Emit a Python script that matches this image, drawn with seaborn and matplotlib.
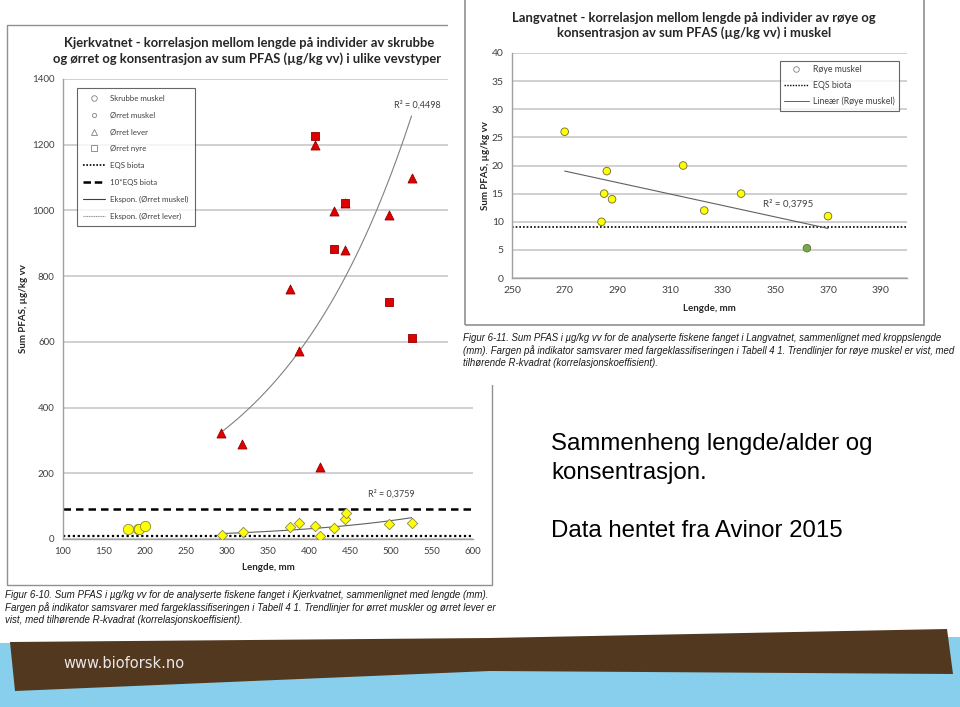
import numpy as np
import pandas as pd
import seaborn as sns
import matplotlib.pyplot as plt
from matplotlib.lines import Line2D
from matplotlib.patches import Rectangle, Polygon

# Kjerkvatnet: lengde (mm) og sum PFAS (ug/kg vv)
skrubbe_len = [179, 192, 193, 200]
skrubbe_pfas = [29, 31, 30, 41]
muskel_len = [294, 319, 377, 388, 407, 414, 430, 444, 445, 497, 525]
muskel_pfas = [11, 22, 36, 49, 40, 9, 35, 60, 80, 46, 50]
lever_len = [293, 318, 377, 388, 407, 413, 430, 444, 444, 497, 525]
lever_pfas = [322, 289, 760, 572, 1200, 219, 999, 880, 1022, 986, 1100]
nyre_len = [407, 430, 444, 497, 525]
nyre_pfas = [1226, 882, 1022, 720, 611]

# Langvatnet: røye muskel
roye_len = [270, 286, 285, 288, 284, 315, 323, 337, 370, 362]
roye_pfas = [26, 19, 15, 14, 10, 20, 12, 15, 11, 5.3]
roye_klasse = ['gul', 'gul', 'gul', 'gul', 'gul', 'gul', 'gul', 'gul', 'gul', 'grønn']

eqs_biota = 9.1
eqs_10 = 91
r2_lever = 'R² = 0,4498'
r2_muskel = 'R² = 0,3759'
r2_roye = 'R² = 0,3795'

W, H = 960, 707
def fx(px):
    return px / W
def fy(py):
    return 1 - py / H

sns.set_theme(style="white")
plt.rcParams['font.family'] = ['Lato', 'DejaVu Sans']

fig = plt.figure(figsize=(9.6, 7.07), dpi=100)
fig.patch.set_facecolor('white')

tick_col = '#404040'
grid_col = '#c8c8c8'

# ---------------- Left chart: Kjerkvatnet ----------------
ax1 = fig.add_axes([fx(63), fy(539), (473 - 63) / W, (539 - 79) / H], zorder=0)
ax1.set_facecolor('none')
sns.scatterplot(x=skrubbe_len, y=skrubbe_pfas, ax=ax1, marker='o', s=55,
                color='#ffff00', edgecolor='#8a8a40', linewidth=0.6, zorder=4)
sns.scatterplot(x=muskel_len, y=muskel_pfas, ax=ax1, marker='D', s=28,
                color='#ffff00', edgecolor='#8a8a40', linewidth=0.6, zorder=4)
sns.scatterplot(x=lever_len, y=lever_pfas, ax=ax1, marker='^', s=42,
                color='#e00000', edgecolor='#900000', linewidth=0.6, zorder=4)
sns.scatterplot(x=nyre_len, y=nyre_pfas, ax=ax1, marker='s', s=36,
                color='#e00000', edgecolor='#900000', linewidth=0.6, zorder=5)

# exponential trend lines (fit on log y)
for xs, ys, col in [(lever_len, lever_pfas, '#808080'), (muskel_len, muskel_pfas, '#606060')]:
    b, a = np.polyfit(xs, np.log(ys), 1)
    xx = np.linspace(min(xs), max(xs), 100)
    sns.lineplot(x=xx, y=np.exp(a + b * xx), ax=ax1, color=col, linewidth=0.8, zorder=3)

ax1.axhline(eqs_biota, color='black', linestyle=(0, (1, 1.2)), linewidth=1.6, zorder=2)
ax1.axhline(eqs_10, color='black', linestyle=(0, (3, 2)), linewidth=1.8, zorder=2)

ax1.set_xlim(100, 600)
ax1.set_ylim(0, 1400)
ax1.set_xticks(np.arange(100, 601, 50))
ax1.set_yticks(np.arange(0, 1401, 200))
ax1.grid(axis='y', color=grid_col, linewidth=1.2)
ax1.set_axisbelow(True)
for s in ['top', 'right']:
    ax1.spines[s].set_visible(False)
for s in ['left', 'bottom']:
    ax1.spines[s].set_color('#a0a0a0')
    ax1.spines[s].set_linewidth(1)
ax1.tick_params(axis='both', length=0, labelsize=7, labelcolor=tick_col, pad=6)
ax1.set_xlabel('Lengde, mm', fontsize=7, fontweight='bold', labelpad=5)
ax1.set_ylabel('Sum PFAS, µg/kg vv', fontsize=7, fontweight='bold', labelpad=3)
ax1.text(532, 1322, r2_lever, fontsize=6.5, color='#404040', ha='center', va='center')
ax1.text(500, 137, r2_muskel, fontsize=6.5, color='#404040', ha='center', va='center')

hollow = dict(linestyle='none', markerfacecolor='none', markeredgecolor='#808080',
              markeredgewidth=0.6)
handles1 = [
    Line2D([], [], marker='o', markersize=4, **hollow),
    Line2D([], [], marker='o', markersize=3, **hollow),
    Line2D([], [], marker='^', markersize=4, **hollow),
    Line2D([], [], marker='s', markersize=4, **hollow),
    Line2D([], [], color='black', linestyle=(0, (1, 1)), linewidth=1.2),
    Line2D([], [], color='black', linestyle=(0, (3, 1.5)), linewidth=1.8),
    Line2D([], [], color='#404040', linewidth=0.8),
    Line2D([], [], color='#909090', linestyle=(0, (1, 0.6)), linewidth=0.8),
]
labels1 = ['Skrubbe muskel', 'Ørret muskel', 'Ørret lever', 'Ørret nyre', 'EQS biota',
           '10*EQS biota', 'Ekspon. (Ørret muskel)', 'Ekspon. (Ørret lever)']
leg1 = ax1.legend(handles1, labels1, loc='upper left', bbox_to_anchor=(0.034, 0.98),
                  borderaxespad=0, fontsize=5.7, frameon=True, fancybox=False,
                  edgecolor='#404040', handlelength=2.8, labelspacing=1.25,
                  borderpad=0.8, handletextpad=0.6)
leg1.get_frame().set_linewidth(0.8)
for t in leg1.get_texts():
    t.set_color('#404040')

# left panel border and titles
fig.patches.append(Rectangle((fx(7), fy(585)), (492 - 7) / W, (585 - 25) / H,
                             transform=fig.transFigure, fill=False, edgecolor='#909090',
                             linewidth=1, zorder=0.5))
fig.text(fx(249), fy(43), 'Kjerkvatnet - korrelasjon mellom lengde på individer av skrubbe',
         fontsize=9.4, fontweight='bold', ha='center', va='center', color='#262626', zorder=1)
fig.text(fx(247), fy(59), 'og ørret og konsentrasjon av sum PFAS (µg/kg vv) i ulike vevstyper',
         fontsize=9.4, fontweight='bold', ha='center', va='center', color='#262626', zorder=1)

cap_font = ['Liberation Sans', 'DejaVu Sans']
cap1 = ['Figur 6-10. Sum PFAS i µg/kg vv for de analyserte fiskene fanget i Kjerkvatnet, sammenlignet med lengde (mm).',
        'Fargen på indikator samsvarer med fargeklassifiseringen i Tabell 4 1. Trendlinjer for ørret muskler og ørret lever er',
        'vist, med tilhørende R-kvadrat (korrelasjonskoeffisient).']
for i, line in enumerate(cap1):
    fig.text(fx(5), fy(595 + 12.5 * i), line, fontsize=7.0, style='italic', family=cap_font,
             ha='left', va='center', color='#1a1a1a', zorder=1)

# white overlay of the second screenshot
fig.patches.append(Rectangle((fx(448), fy(385)), (W - 448) / W, 385 / H,
                             transform=fig.transFigure, facecolor='white', edgecolor='none',
                             zorder=1.5))
fig.patches.append(Rectangle((fx(465), fy(325)), (924 - 465) / W, 330 / H,
                             transform=fig.transFigure, fill=False, edgecolor='#909090',
                             linewidth=1.2, zorder=1.6))

# ---------------- Right chart: Langvatnet ----------------
ax2 = fig.add_axes([fx(512), fy(278), (907 - 512) / W, (278 - 53) / H], zorder=2)
ax2.set_facecolor('none')
roye = pd.DataFrame({'lengde': roye_len, 'pfas': roye_pfas, 'klasse': roye_klasse})
sns.scatterplot(data=roye, x='lengde', y='pfas', hue='klasse', ax=ax2, s=30,
                palette={'gul': '#ffff00', 'grønn': '#70ad47'}, edgecolor='#6a6a3a',
                linewidth=0.6, legend=False, zorder=4)
sns.regplot(data=roye, x='lengde', y='pfas', ax=ax2, scatter=False, ci=None,
            line_kws=dict(color='#606060', linewidth=0.8, zorder=3), truncate=True)
ax2.axhline(eqs_biota, color='black', linestyle=(0, (1, 1.2)), linewidth=1.2, zorder=2)
ax2.set_xlim(250, 400)
ax2.set_ylim(0, 40)
ax2.set_xticks(np.arange(250, 391, 20))
ax2.set_yticks(np.arange(0, 41, 5))
ax2.grid(axis='y', color=grid_col, linewidth=1.2)
ax2.set_axisbelow(True)
for s in ['top', 'right']:
    ax2.spines[s].set_visible(False)
for s in ['left', 'bottom']:
    ax2.spines[s].set_color('#a0a0a0')
    ax2.spines[s].set_linewidth(1)
ax2.tick_params(axis='both', length=0, labelsize=7.5, labelcolor=tick_col, pad=6)
ax2.set_xlabel('Lengde, mm', fontsize=7, fontweight='bold', labelpad=6)
ax2.set_ylabel('Sum PFAS, µg/kg vv', fontsize=7, fontweight='bold', labelpad=1)
ax2.text(354.7, 13.1, r2_roye, fontsize=7, color='#404040', ha='center', va='center')

handles2 = [
    Line2D([], [], marker='o', markersize=4, **hollow),
    Line2D([], [], color='black', linestyle=(0, (1, 1)), linewidth=1),
    Line2D([], [], color='#606060', linewidth=0.7),
]
labels2 = ['Røye muskel', 'EQS biota', 'Lineær (Røye muskel)']
leg2 = ax2.legend(handles2, labels2, loc='upper right', bbox_to_anchor=(0.98, 0.964),
                  borderaxespad=0, fontsize=6.3, frameon=True, fancybox=False,
                  edgecolor='#404040', handlelength=2.8, labelspacing=0.75,
                  borderpad=0.5, handletextpad=0.5)
leg2.get_frame().set_linewidth(0.8)
for t in leg2.get_texts():
    t.set_color('#404040')

fig.text(fx(694), fy(18), 'Langvatnet - korrelasjon mellom lengde på individer av røye og',
         fontsize=9.4, fontweight='bold', ha='center', va='center', color='#262626', zorder=3)
fig.text(fx(694), fy(33), 'konsentrasjon av sum PFAS (µg/kg vv) i muskel',
         fontsize=9.4, fontweight='bold', ha='center', va='center', color='#262626', zorder=3)

cap2 = ['Figur 6-11. Sum PFAS i µg/kg vv for de analyserte fiskene fanget i Langvatnet, sammenlignet med kroppslengde',
        '(mm). Fargen på indikator samsvarer med fargeklassifiseringen i Tabell 4 1. Trendlinjer for røye muskel er vist, med',
        'tilhørende R-kvadrat (korrelasjonskoeffisient).']
for i, line in enumerate(cap2):
    fig.text(fx(463), fy(338 + 12.5 * i), line, fontsize=6.9, style='italic', family=cap_font,
             ha='left', va='center', color='#1a1a1a', zorder=3)

# ---------------- Slide text ----------------
slide_font = ['Liberation Sans', 'DejaVu Sans']
fig.text(fx(551), fy(444), 'Sammenheng lengde/alder og', fontsize=17.3, family=slide_font,
         ha='left', va='center', color='black', zorder=3)
fig.text(fx(551), fy(473), 'konsentrasjon.', fontsize=17.3, family=slide_font,
         ha='left', va='center', color='black', zorder=3)
fig.text(fx(551), fy(531), 'Data hentet fra Avinor 2015', fontsize=17.3, family=slide_font,
         ha='left', va='center', color='black', zorder=3)

# ---------------- Footer banner ----------------
blue = [(0, 643), (960, 637), (960, 707), (0, 707)]
brown = [(10, 642), (490, 638), (947, 629), (953, 674), (490, 671), (15, 691)]
fig.patches.append(Polygon([(fx(x), fy(y)) for x, y in blue], closed=True,
                           transform=fig.transFigure, facecolor='#87cfec',
                           edgecolor='none', zorder=1))
fig.patches.append(Polygon([(fx(x), fy(y)) for x, y in brown], closed=True,
                           transform=fig.transFigure, facecolor='#52381e',
                           edgecolor='none', zorder=1.1))
fig.text(fx(63), fy(664), 'www.bioforsk.no', fontsize=10.5, family=['DejaVu Sans'],
         ha='left', va='center', color='#e8e8e8', zorder=3)

fig.savefig('out.png', dpi=100)
